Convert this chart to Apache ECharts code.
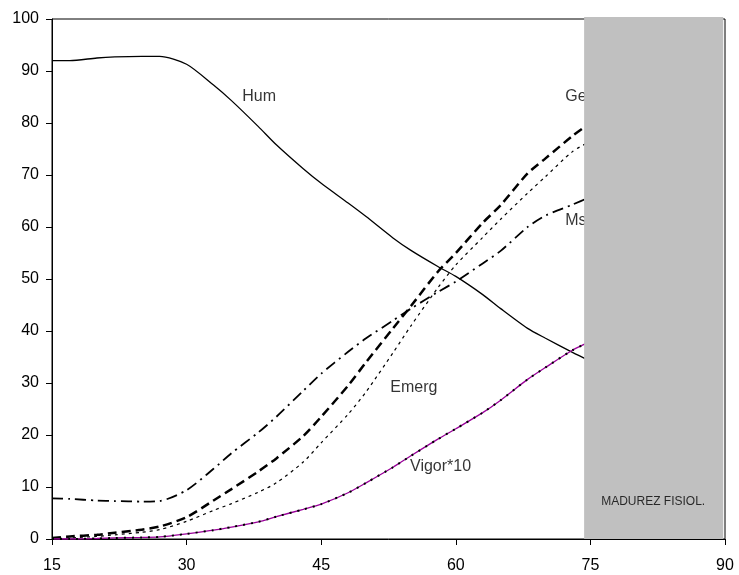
<!DOCTYPE html>
<html>
<head>
<meta charset="utf-8">
<script src="https://cdn.jsdelivr.net/npm/echarts@6/dist/echarts.min.js"></script>
<style>
html, body { margin: 0; padding: 0; background: #fff; }
#main { width: 739px; height: 575px; }
</style>
</head>
<body>
<div id="main"></div>
<script>
// days after flowering
var days  = [15, 17, 20, 22, 25, 27, 30, 33, 35, 38, 40, 43, 45, 48, 50, 53, 55, 58, 60, 63, 65, 68, 70, 73, 75];
var hum   = [92.0, 92.0, 92.5, 92.7, 92.8, 92.8, 91.3, 87.3, 84.3, 79.3, 75.8, 71.2, 68.4, 64.6, 62.0, 57.9, 55.5, 52.4, 50.5, 47.0, 44.3, 40.5, 38.6, 35.9, 34.2];
var germ  = [0.2, 0.5, 0.8, 1.2, 1.8, 2.4, 4.2, 7.4, 9.6, 13.0, 15.5, 19.8, 23.5, 29.5, 34.0, 40.5, 44.8, 51.4, 55.0, 60.8, 64.2, 70.3, 73.2, 77.5, 80.0];
var emerg = [0.0, 0.2, 0.5, 0.8, 1.3, 1.8, 3.4, 5.5, 6.8, 9.0, 10.8, 14.8, 18.5, 24.0, 28.3, 35.8, 41.0, 48.3, 52.7, 58.0, 61.5, 66.5, 69.7, 74.5, 76.5];
var ms    = [7.8, 7.7, 7.4, 7.3, 7.2, 7.3, 9.4, 13.5, 16.5, 20.5, 23.5, 28.5, 31.8, 36.0, 38.6, 42.0, 44.3, 47.5, 49.5, 53.0, 55.4, 60.0, 62.2, 64.3, 65.8];
var vigor = [0.0, 0.0, 0.1, 0.2, 0.3, 0.4, 1.0, 1.7, 2.3, 3.3, 4.3, 5.7, 6.7, 8.9, 10.8, 13.8, 16.0, 19.2, 21.2, 24.3, 26.7, 30.7, 33.0, 36.3, 38.0];

var labelText = ['Hum', 'Germ', 'Ms', 'Emerg', 'Vigor*10'];
var labelX    = [36.2, 72.2, 72.2, 52.7, 54.9];
var labelY    = [85.0, 85.0, 61.3, 29.2, 14.0];

var madurez = [74.3, 89.8];   // shaded band (days)
var madurezText = 'MADUREZ FISIOL.';
var madurezPos = [76.2, 7.1];

var FONT = "'Liberation Sans', Arial, sans-serif";

function pairs(xs, ys) {
  var out = [];
  for (var i = 0; i < xs.length; i++) out.push([xs[i], ys[i]]);
  return out;
}

var labelData = [];
for (var k = 0; k < labelText.length; k++) {
  labelData.push({ name: labelText[k], value: [labelX[k], labelY[k]] });
}

var myChart = echarts.init(document.getElementById('main'));

option = {
  animation: false,
  backgroundColor: '#fff',
  textStyle: { fontFamily: FONT },
  grid: {
    left: 52, right: 14, top: 19, bottom: 36,
    show: true, borderColor: '#000', borderWidth: 1
  },
  xAxis: {
    type: 'value', min: 15, max: 90, interval: 15,
    axisLine: { lineStyle: { color: '#000', width: 1 } },
    axisTick: { show: true, inside: false, length: 6, lineStyle: { color: '#000' } },
    axisLabel: { color: '#000', fontSize: 16, fontFamily: FONT, margin: 19 },
    splitLine: { show: false }
  },
  yAxis: {
    type: 'value', min: 0, max: 100, interval: 10,
    axisLine: { show: true, lineStyle: { color: '#000', width: 1 } },
    axisTick: { show: true, inside: false, length: 6, lineStyle: { color: '#000' } },
    axisLabel: { color: '#000', fontSize: 16, fontFamily: FONT, margin: 13 },
    splitLine: { show: false }
  },
  series: [
    {
      name: 'Hum', type: 'line', data: pairs(days, hum), smooth: 0.25,
      showSymbol: false, z: 3,
      lineStyle: { color: '#000', width: 1.3, type: 'solid' }
    },
    {
      name: 'Germ', type: 'line', data: pairs(days, germ), smooth: 0.25,
      showSymbol: false, z: 3,
      lineStyle: { color: '#000', width: 2.5, type: [9, 5] }
    },
    {
      name: 'Emerg', type: 'line', data: pairs(days, emerg), smooth: 0.25,
      showSymbol: false, z: 3,
      lineStyle: { color: '#000', width: 1.2, type: [3, 4] }
    },
    {
      name: 'Ms', type: 'line', data: pairs(days, ms), smooth: 0.25,
      showSymbol: false, z: 3,
      lineStyle: { color: '#000', width: 1.8, type: [11, 5, 2, 5] }
    },
    {
      name: 'Vigor*10', type: 'line', data: pairs(days, vigor), smooth: 0.25,
      showSymbol: false, z: 3,
      lineStyle: { color: '#990099', width: 1.3, type: 'solid' }
    },
    {
      name: 'Vigor*10 dots', type: 'line', data: pairs(days, vigor), smooth: 0.25,
      showSymbol: false, z: 4,
      lineStyle: { color: '#000', width: 2, type: [2, 6] }
    },
    {
      name: 'labels', type: 'scatter', data: labelData, symbolSize: 0, z: 3,
      label: {
        show: true, position: 'right', distance: 0,
        formatter: '{b}', color: '#000', fontSize: 16, fontFamily: FONT
      }
    },
    {
      name: 'madurez', type: 'custom', z: 10, silent: true,
      data: [[madurez[0], madurez[1]]],
      renderItem: function (params, api) {
        var p0 = api.coord([api.value(0), 100.4]);
        var p1 = api.coord([api.value(1), 0]);
        return {
          type: 'rect',
          shape: { x: p0[0], y: p0[1], width: p1[0] - p0[0], height: p1[1] - p0[1] },
          style: { fill: '#c0c0c0', stroke: null }
        };
      }
    },
    {
      name: 'madurez label', type: 'scatter', symbolSize: 0, z: 11,
      data: [{ name: madurezText, value: madurezPos }],
      label: {
        show: true, position: 'right', distance: 0,
        formatter: '{b}', color: '#000', fontSize: 12, fontFamily: FONT
      }
    }
  ]
};
myChart.setOption(option);
</script>
</body>
</html>
